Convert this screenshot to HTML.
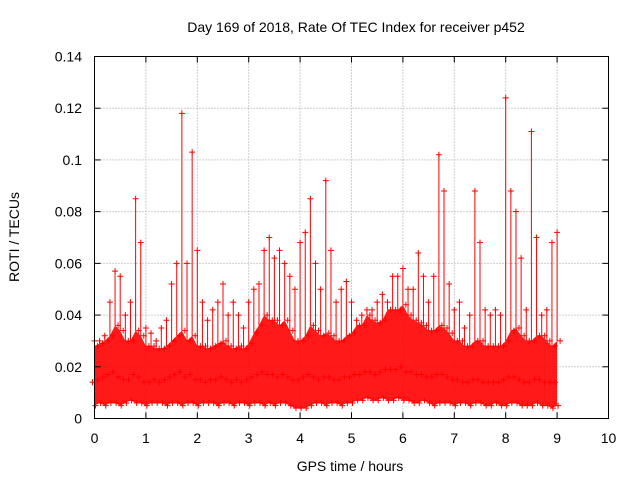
<!DOCTYPE html>
<html><head><meta charset="utf-8"><style>
html,body{margin:0;padding:0;background:#fff;}
svg text{font-family:"Liberation Sans",sans-serif;font-size:14px;fill:#000;}
</style></head><body>
<svg id="chart" width="640" height="480" xmlns="http://www.w3.org/2000/svg">
<rect width="640" height="480" fill="#fff"/>
<g id="grid"></g>
<g id="band"></g>
<g id="marks"></g>
<rect x="94.5" y="56.5" width="514" height="362" fill="none" stroke="#000" stroke-width="1"/>
<g id="ticks"></g>
<text x="356" y="32" text-anchor="middle">Day 169 of 2018, Rate Of TEC Index for receiver p452</text>
<text x="350" y="471" text-anchor="middle">GPS time / hours</text>
<text transform="translate(19,237) rotate(-90)" text-anchor="middle">ROTI / TECUs</text>
</svg>
<script>
// per 0.1h bin values (units of 0.001 TECU/min)
const binStart = 0, binStep = 0.1;
const lowVals  = [5,6,5,6,6,5,6,7,6,6,5,6,6,6,5,6,6,5,6,6,5,6,6,6,5,6,6,5,6,6,5,6,6,5,6,5,6,6,5,4,4,4,5,6,6,5,6,6,5,6,6,7,7,8,7,7,8,7,7,8,7,7,6,6,7,6,5,6,6,6,5,6,6,5,6,6,5,5,6,5,5,6,6,5,5,5,6,5,5,4,5];
const midVals  = [14,15,16,17,18,16,15,15,17,16,14,14,15,14,15,16,17,18,16,17,15,15,14,15,15,16,15,14,15,14,15,16,17,18,17,17,16,17,16,15,15,16,17,16,15,16,16,15,15,16,16,17,17,18,18,17,18,19,19,19,20,18,18,17,17,16,16,17,17,16,15,15,14,14,15,15,14,14,14,14,15,16,16,15,14,14,15,15,14,14,14];
const topVals  = [28,29,30,32,36,34,30,30,34,32,28,28,27,27,28,30,32,34,30,32,28,28,27,28,29,30,28,27,28,27,29,33,36,40,38,38,36,38,34,30,30,32,36,34,32,33,32,30,30,32,33,36,36,40,38,37,38,42,42,42,44,40,38,37,36,34,34,36,35,33,30,30,28,28,30,30,28,28,28,28,30,34,35,32,30,30,32,32,30,28,30];
const peakVals = [30,30,32,45,57,55,40,45,85,68,35,33,30,35,38,52,60,118,60,103,65,45,38,42,45,52,40,45,40,35,45,50,52,65,70,62,65,60,55,50,68,72,85,60,50,92,65,45,50,53,45,38,40,42,42,45,48,45,55,55,58,50,50,64,55,45,55,102,88,52,42,45,35,40,88,68,42,40,42,40,124,88,80,62,42,111,70,40,42,68,72];
const xTicks = [0,1,2,3,4,5,6,7,8,9,10];
const yTicks = [0,0.02,0.04,0.06,0.08,0.1,0.12,0.14];
const yTickLabels = ["0","0.02","0.04","0.06","0.08","0.1","0.12","0.14"];

const X0=94.5,X1=608.5,Y0=418.5,Y1=56.5;
const xs=v=>X0+(v-0)/(10-0)*(X1-X0);
const ys=v=>Y0-(v-0)/(0.14-0)*(Y0-Y1);
const NS="http://www.w3.org/2000/svg";
function mk(tag,attrs,parent){const e=document.createElementNS(NS,tag);for(const k in attrs)e.setAttribute(k,attrs[k]);parent.appendChild(e);return e;}
const grid=document.getElementById('grid'),ticks=document.getElementById('ticks');
const band=document.getElementById('band'),marks=document.getElementById('marks');

xTicks.forEach((t,i)=>{
  const x=xs(t);
  if(i>0&&i<xTicks.length-1){const g=mk('line',{x1:x,x2:x,y1:Y0,y2:Y1,stroke:'#a0a0a0','stroke-dasharray':'1,2'},grid);
  
  }
  const l=mk('line',{x1:x,x2:x,y1:Y0,y2:Y0-6,stroke:'#000'},ticks);
  
  
  const l2=mk('line',{x1:x,x2:x,y1:Y1,y2:Y1+6,stroke:'#000'},ticks);
  
  
  const tx=mk('text',{x:x,y:443,'text-anchor':'middle'},ticks);tx.textContent=String(t);
  
  
});
yTicks.forEach((t,i)=>{
  const y=ys(t);
  if(i>0&&i<yTicks.length-1){const g=mk('line',{x1:X0,x2:X1,y1:y,y2:y,stroke:'#a0a0a0','stroke-dasharray':'1,2'},grid);
  
  }
  const l=mk('line',{x1:X0,x2:X0+6,y1:y,y2:y,stroke:'#000'},ticks);
  
  
  const l2=mk('line',{x1:X1,x2:X1-6,y1:y,y2:y,stroke:'#000'},ticks);
  
  
  const tx=mk('text',{x:82,y:y+5,'text-anchor':'end'},ticks);tx.textContent=yTickLabels[i];
  
  
});

let pts=[];
topVals.forEach((v,i)=>pts.push(xs(binStart+i*binStep)+','+ys(v/1000)));
for(let i=lowVals.length-1;i>=0;i--)pts.push(xs(binStart+i*binStep)+','+ys(lowVals[i]/1000));
const poly=mk('polygon',{points:pts.join(' '),fill:'#ff0000','fill-opacity':'0.9'},band);



function plus(x,y,name){
  const p=mk('path',{d:`M${x-3},${y}H${x+3}M${x},${y-3}V${y+3}`,stroke:'#ff0000','stroke-width':'1',fill:'none'},marks);
  
  
}
peakVals.forEach((v,i)=>{
  const x=xs(binStart+i*binStep);
  const sp=mk('line',{x1:x,x2:x,y1:ys(topVals[i]/1000),y2:ys(v/1000),stroke:'#ff0000','stroke-width':'1'},marks);
  
  
  plus(x,ys(v/1000),'peak-point');
  plus(x+3,ys(topVals[i]/1000),'top-point');
  plus(x-2,ys(midVals[i]/1000),'mid-point');
  plus(x+1,ys(lowVals[i]/1000),'low-point');
});
</script>
</body></html>
